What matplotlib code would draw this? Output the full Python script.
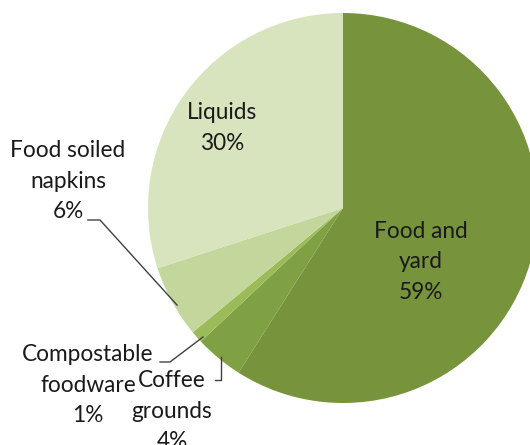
import matplotlib
matplotlib.use('Agg')
import matplotlib.pyplot as plt

labels = ['Food and\nyard', 'Coffee\ngrounds', 'Compostable\nfoodware', 'Food soiled\nnapkins', 'Liquids']
shares = [59, 4, 1, 6, 30]
colors = ['#77933C', '#80A044', '#9BBB59', '#C3D69B', '#D7E4BD']

W, H = 530, 445
fig = plt.figure(figsize=(W / 100, H / 100), dpi=100)
ax = fig.add_axes([0, 0, 1, 1])

# pie laid out in pixel units, y measured upward
cx, cy, r = 343, H - 208, 195
ax.pie(shares, colors=colors, startangle=90, counterclock=False,
       center=(cx, cy), radius=r, frame=True,
       wedgeprops=dict(linewidth=0))
ax.set_xlim(0, W)
ax.set_ylim(0, H)
ax.set_aspect('equal')
ax.axis('off')

font = dict(family=['Lato', 'DejaVu Sans'], fontsize=16.3, color='#1a1a1a',
            ha='center', va='center', linespacing=1.53)

def label(i, x, y):
    ax.text(x, H - y, f'{labels[i]}\n{shares[i]}%', **font)

label(0, 421, 262)
label(4, 222, 128)
label(3, 68, 181)
label(2, 88, 385)
label(1, 172, 411)

# leader lines from the small slices to their labels
line = dict(color='#404040', linewidth=1)
ax.plot([88, 100, 177], [H - 220, H - 220, H - 305], **line)
ax.plot([160, 170, 203], [H - 362, H - 362, H - 337], **line)
ax.plot([215, 221, 221], [H - 380, H - 380, H - 357], **line)

fig.savefig('out.png', dpi=100)
